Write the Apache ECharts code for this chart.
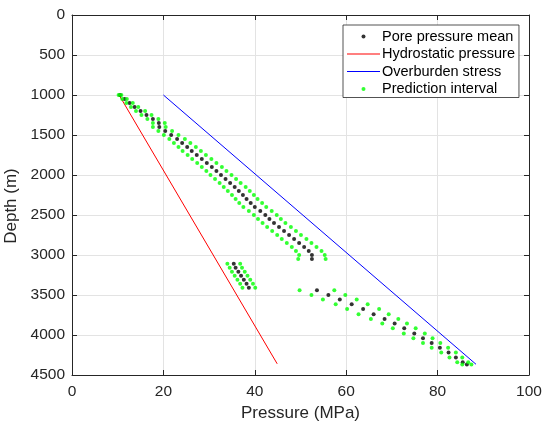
<!DOCTYPE html>
<html>
<head>
<meta charset="utf-8">
<script src="https://cdn.jsdelivr.net/npm/echarts@6/dist/echarts.min.js"></script>
<style>
html,body{margin:0;padding:0;background:#fff;}
#chart{width:544px;height:423px;}
</style>
</head>
<body>
<div id="chart"></div>
<script>
// ---- Data ----
// Segment 1
const depth1 = [1000,1050,1100,1150,1200,1250,1300,1350,1400,1450,1500,1550,1600,1650,1700,1750,1800,1850,1900,1950,2000,2050,2100,2150,2200,2250,2300,2350,2400,2450,2500,2550,2600,2650,2700,2750,2800,2850,2900,2950,3000,3050];
const mean1  = [10.5,11.5,12.6,13.7,15.0,16.3,17.7,19.0,19.1,20.4,21.7,23.0,24.1,25.2,26.2,27.3,28.4,29.5,30.6,31.6,32.6,33.6,34.6,35.6,36.5,37.4,38.2,39.1,40.0,41.2,42.3,43.2,44.2,45.3,46.4,47.5,48.6,49.7,50.8,51.8,52.5,52.5];
const lower1 = [10.2,11.0,11.9,12.9,14.0,15.2,16.5,17.7,17.7,18.9,20.1,21.3,22.3,23.3,24.2,25.3,26.3,27.4,28.4,29.4,30.3,31.3,32.3,33.2,34.1,35.0,35.8,36.6,37.5,38.7,39.8,40.7,41.7,42.7,43.8,44.9,45.9,47.0,48.1,49.0,49.7,49.5];
const upper1 = [10.8,12.0,13.3,14.5,16.0,17.4,18.9,20.3,20.5,21.9,23.3,24.7,25.9,27.1,28.2,29.3,30.5,31.6,32.8,33.8,34.9,35.9,36.9,38.0,38.9,39.8,40.6,41.6,42.5,43.7,44.8,45.7,46.7,47.9,49.0,50.1,51.3,52.4,53.5,54.6,55.3,55.5];
// Segment 2
const depth2 = [3110,3160,3210,3260,3310,3360,3410];
const mean2  = [35.4,35.8,36.4,37.0,37.6,38.2,38.7];
const lower2 = [34.0,34.5,35.0,35.6,36.2,36.8,37.3];
const upper2 = [36.8,37.2,37.8,38.4,39.0,39.6,40.1];
// Segment 3
const depth3 = [3440,3500,3555,3615,3675,3740,3800,3855,3915,3980,4040,4100,4160,4220,4280,4340,4370];
const mean3  = [53.6,56.1,58.6,61.2,63.7,66.0,68.4,70.6,72.7,74.9,76.8,78.7,80.5,82.4,84.0,85.5,86.4];
const lower3 = [49.8,52.4,54.9,57.7,60.2,62.7,65.4,67.9,70.2,72.6,74.7,76.8,78.7,80.8,82.6,84.3,85.4];
const upper3 = [57.4,59.8,62.3,64.7,67.2,69.3,71.4,73.3,75.2,77.2,78.9,80.6,82.3,84.0,85.4,86.7,87.4];
// Reference lines
const hydroP = [10.3, 44.9];
const hydroD = [1000, 4360];
const overP  = [20.0, 88.4];
const overD  = [1000, 4366];
// Axis ticks
const xTicks = [0,20,40,60,80,100];
const yTicks = [0,500,1000,1500,2000,2500,3000,3500,4000,4500];

// ---- Build series data ----
function zip(xs, ys){ return xs.map((x,i)=>[x, ys[i]]); }
const meanData = [].concat(zip(mean1,depth1), zip(mean2,depth2), zip(mean3,depth3));
const intervalData = [].concat(zip(lower1,depth1), zip(upper1,depth1),
                               zip(lower2,depth2), zip(upper2,depth2),
                               zip(lower3,depth3), zip(upper3,depth3));

const FONT = 'Liberation Sans';
const TXT = '#262626';
const LINE_ICON = 'path://M0,0H33V1H0Z';
const axisCommon = {
  type:'value',
  axisLine:{show:true, onZero:false, lineStyle:{color:TXT, width:1}},
  axisTick:{show:true, inside:true, length:5, lineStyle:{color:TXT}},
  splitLine:{show:false},
};

const chart = echarts.init(document.getElementById('chart'), null, {renderer:'canvas'});
chart.setOption({
  animation:false,
  backgroundColor:'#fff',
  textStyle:{fontFamily:FONT},
  grid:{left:72, right:15, top:15, bottom:48, containLabel:false, outerBoundsMode:'none'},
  legend:{
    orient:'vertical',
    left:343, top:25,
    padding:[3,4,0,4],
    backgroundColor:'#fff',
    borderColor:TXT, borderWidth:0.8,
    itemWidth:33, itemHeight:4, itemGap:0.5,
    symbolKeepAspect:true,
    textStyle:{fontFamily:FONT, fontSize:14.5, color:'#000', lineHeight:17, padding:[0,0,0,-3]},
    data:[
      {name:'Pore pressure mean', icon:'circle'},
      {name:'Hydrostatic pressure', icon:LINE_ICON, itemStyle:{color:'#ff0000'}},
      {name:'Overburden stress', icon:LINE_ICON, itemStyle:{color:'#0000ff'}},
      {name:'Prediction interval', icon:'circle'}
    ]
  },
  xAxis:[
    Object.assign({}, axisCommon, {
      position:'bottom', min:xTicks[0], max:xTicks[xTicks.length-1], interval:20,
      axisLabel:{show:true, color:TXT, fontSize:15.5, fontFamily:FONT, margin:9,
                 formatter:function(v){return String(v);}},
      splitLine:{show:true, lineStyle:{color:'#e3e3e3', width:1}},
      name:'Pressure (MPa)', nameLocation:'middle', nameGap:29,
      nameTextStyle:{color:TXT, fontSize:17, fontFamily:FONT}
    }),
    Object.assign({}, axisCommon, {
      position:'top', min:xTicks[0], max:xTicks[xTicks.length-1], interval:20,
      axisLabel:{show:false}
    })
  ],
  yAxis:[
    Object.assign({}, axisCommon, {
      position:'left', inverse:true, min:yTicks[0], max:yTicks[yTicks.length-1], interval:500,
      axisLabel:{show:true, color:TXT, fontSize:15.5, fontFamily:FONT, margin:7,
                 formatter:function(v){return String(v);}},
      splitLine:{show:true, lineStyle:{color:'#e3e3e3', width:1}},
      name:'Depth (m)', nameLocation:'middle', nameGap:46,
      nameTextStyle:{color:TXT, fontSize:17, fontFamily:FONT, padding:[0,22,0,0]}
    }),
    Object.assign({}, axisCommon, {
      position:'right', inverse:true, min:yTicks[0], max:yTicks[yTicks.length-1], interval:500,
      axisLabel:{show:false}
    })
  ],
  series:[
    {
      name:'Pore pressure mean', type:'scatter', xAxisIndex:0, yAxisIndex:0,
      symbol:'circle', symbolSize:4, itemStyle:{color:'#000'},
      data:meanData, z:3
    },
    {
      name:'Hydrostatic pressure', type:'line', xAxisIndex:0, yAxisIndex:0,
      symbol:'none', lineStyle:{color:'#ff0000', width:1}, itemStyle:{color:'#ff0000'},
      data:zip(hydroP, hydroD), z:2
    },
    {
      name:'Overburden stress', type:'line', xAxisIndex:0, yAxisIndex:0,
      symbol:'none', lineStyle:{color:'#0000ff', width:1}, itemStyle:{color:'#0000ff'},
      data:zip(overP, overD), z:2
    },
    {
      name:'Prediction interval', type:'scatter', xAxisIndex:0, yAxisIndex:0,
      symbol:'circle', symbolSize:4, itemStyle:{color:'#00ff00'},
      data:intervalData, z:4
    }
  ]
});
</script>
</body>
</html>
